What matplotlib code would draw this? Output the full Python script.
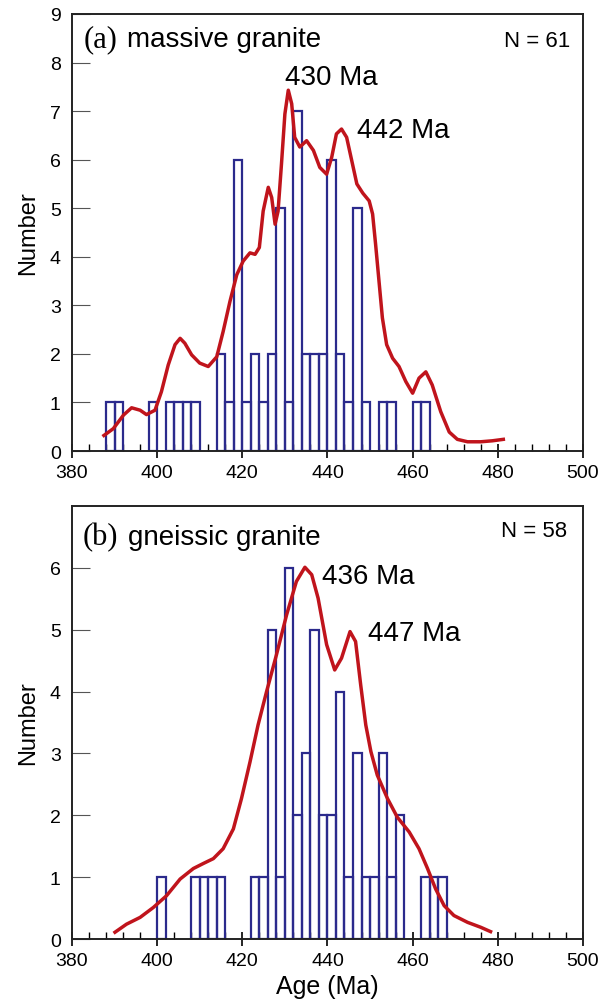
import numpy as np
import matplotlib
matplotlib.use('Agg')
import matplotlib.pyplot as plt

# zircon age histograms + probability curves, two granite types

# (a) massive granite - bin left edges (2 Ma bins) and counts
bins_a = [388, 390, 398, 402, 404, 406, 408, 414, 416, 418, 420, 422, 424, 426,
          428, 430, 432, 434, 436, 438, 440, 442, 444, 446, 448, 452, 454, 460, 462]
counts_a = [1, 1, 1, 1, 1, 1, 1, 2, 1, 6, 1, 2, 1, 2,
            5, 1, 7, 2, 2, 2, 6, 2, 1, 5, 1, 1, 1, 1, 1]

# probability curve (a)
curve_a_x = [387.5, 389.7, 392.1, 394.0, 396.0, 397.5, 399.5, 401.0, 402.6, 404.2,
             405.4, 406.5, 408.1, 410.0, 412.0, 414.0, 415.5, 417.1, 418.7, 420.2,
             421.8, 423.0, 424.0, 424.9, 426.1, 426.9, 427.7, 428.4, 429.2, 430.0,
             430.8, 431.6, 432.3, 433.5, 435.1, 436.7, 438.2, 439.8, 441.0, 442.1,
             443.3, 444.5, 445.7, 446.9, 448.3, 449.8, 450.6, 451.3, 452.1, 452.9,
             453.9, 455.3, 456.8, 458.4, 460.0, 461.5, 463.1, 464.6, 466.6, 468.6,
             470.5, 472.9, 476.0, 478.7, 481.3]
curve_a_y = [0.32, 0.46, 0.74, 0.89, 0.84, 0.75, 0.84, 1.22, 1.77, 2.19,
             2.32, 2.22, 1.98, 1.81, 1.74, 1.94, 2.46, 3.08, 3.63, 3.91,
             4.08, 4.05, 4.19, 4.94, 5.43, 5.22, 4.67, 4.94, 5.91, 6.94,
             7.43, 7.15, 6.46, 6.26, 6.39, 6.19, 5.84, 5.70, 6.05, 6.53,
             6.63, 6.46, 5.98, 5.50, 5.31, 5.15, 4.88, 4.26, 3.50, 2.74,
             2.19, 1.91, 1.74, 1.43, 1.19, 1.50, 1.63, 1.36, 0.81, 0.39,
             0.24, 0.19, 0.19, 0.21, 0.24]

# (b) gneissic granite
bins_b = [400, 408, 410, 412, 414, 422, 424, 426, 428, 430, 432, 434, 436, 438,
          440, 442, 444, 446, 448, 450, 452, 454, 456, 462, 464, 466]
counts_b = [1, 1, 1, 1, 1, 1, 1, 5, 1, 6, 2, 3, 5, 2,
            2, 4, 1, 3, 1, 1, 3, 1, 2, 1, 1, 1]

curve_b_x = [390.1, 392.8, 396.0, 399.1, 402.2, 405.4, 408.5, 410.8, 413.2, 415.5,
             417.9, 419.8, 421.8, 423.7, 425.7, 428.0, 430.4, 432.7, 434.7, 436.3,
             437.8, 439.8, 441.7, 443.3, 445.3, 446.6, 447.8, 449.0, 450.2, 451.7,
             454.1, 456.4, 459.2, 461.5, 463.5, 465.4, 467.4, 469.7, 472.9, 476.0,
             478.3]
curve_b_y = [0.11, 0.24, 0.35, 0.51, 0.70, 0.97, 1.14, 1.22, 1.30, 1.46,
             1.78, 2.27, 2.86, 3.46, 4.00, 4.59, 5.24, 5.78, 6.01, 5.89,
             5.51, 4.76, 4.35, 4.54, 4.97, 4.81, 4.11, 3.46, 3.03, 2.65,
             2.27, 1.97, 1.73, 1.46, 1.14, 0.81, 0.54, 0.38, 0.27, 0.19,
             0.12]

xticks = [380, 400, 420, 440, 460, 480, 500]

bar_col = '#2b2a8c'
line_col = '#c0141c'
sans = 'Liberation Sans'
serif = 'Liberation Serif'

fig = plt.figure(figsize=(6.11, 10.04), dpi=100)
ax1 = fig.add_axes([0.1178, 0.5498, 0.8363, 0.4353])
ax2 = fig.add_axes([0.1178, 0.0637, 0.8363, 0.4313])


def setup(ax, ymax, show_xlabel):
    ax.set_xlim(380, 500)
    ax.set_ylim(0, ymax)
    ax.set_xticks(xticks)
    ax.set_xticks(np.arange(380, 501, 4), minor=True)
    ax.set_yticks(range(0, ymax + 1 if ymax == 9 else ymax))
    ax.tick_params(axis='x', which='major', direction='inout', length=10, width=1.2,
                   labelsize=14, pad=4)
    ax.tick_params(axis='x', which='minor', direction='in', length=5, width=1)
    ax.tick_params(axis='y', which='major', direction='in', length=13, width=0.8,
                   color='#555555', labelsize=14, pad=8)
    for lab in ax.get_xticklabels() + ax.get_yticklabels():
        lab.set_fontfamily(sans)
    for s in ax.spines.values():
        s.set_linewidth(1.4)
        s.set_color('#222222')
    ax.set_ylabel('Number', fontsize=17, family=sans, labelpad=8)
    if show_xlabel:
        ax.set_xlabel('Age (Ma)', fontsize=18, family=sans, labelpad=4)


# panel a
ax1.bar(bins_a, counts_a, width=2, align='edge', fill=False, edgecolor=bar_col,
        linewidth=1.6, zorder=2)
ax1.plot(curve_a_x, curve_a_y, color=line_col, lw=2.5, zorder=3,
         solid_joinstyle='round')
setup(ax1, 9, False)
ax1.text(0.022, 0.927, '(a)', transform=ax1.transAxes, fontsize=22, family=serif,
         va='baseline')
ax1.text(0.108, 0.927, 'massive granite', transform=ax1.transAxes, fontsize=20,
         family=sans, va='baseline')
ax1.text(0.975, 0.927, 'N = 61', transform=ax1.transAxes, fontsize=16, family=sans,
         va='baseline', ha='right')
ax1.text(430.0, 7.56, '430 Ma', fontsize=20, family=sans, va='baseline')
ax1.text(446.9, 6.47, '442 Ma', fontsize=20, family=sans, va='baseline')

# panel b
ax2.bar(bins_b, counts_b, width=2, align='edge', fill=False, edgecolor=bar_col,
        linewidth=1.6, zorder=2)
ax2.plot(curve_b_x, curve_b_y, color=line_col, lw=2.5, zorder=3,
         solid_joinstyle='round')
setup(ax2, 7, True)
ax2.text(0.021, 0.912, '(b)', transform=ax2.transAxes, fontsize=22, family=serif,
         va='baseline')
ax2.text(0.110, 0.912, 'gneissic granite', transform=ax2.transAxes, fontsize=20,
         family=sans, va='baseline')
ax2.text(0.969, 0.931, 'N = 58', transform=ax2.transAxes, fontsize=16, family=sans,
         va='baseline', ha='right')
ax2.text(438.7, 5.75, '436 Ma', fontsize=20, family=sans, va='baseline')
ax2.text(449.5, 4.83, '447 Ma', fontsize=20, family=sans, va='baseline')

fig.savefig('out.png', dpi=100)
